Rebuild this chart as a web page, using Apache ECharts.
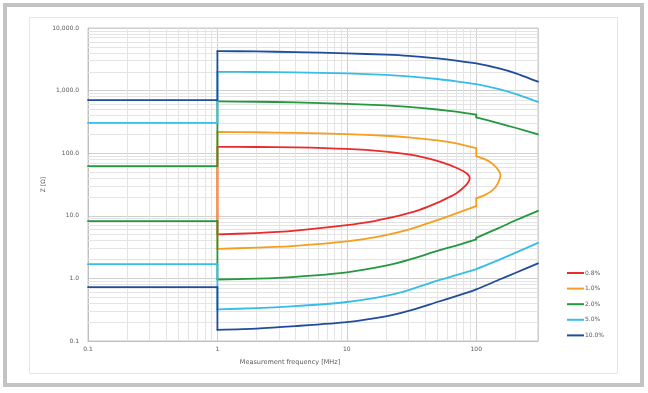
<!DOCTYPE html>
<html><head><meta charset="utf-8">
<script src="https://cdn.jsdelivr.net/npm/echarts@6/dist/echarts.min.js"></script>
<style>html,body{margin:0;padding:0;background:#fff}#c{width:648px;height:393px}</style>
</head><body><div id="c"></div>
<script>
// ---- data ----
const seriesNames = ['0.8%', '1.0%', '2.0%', '5.0%', '10.0%'];
const seriesColors = ['#ea2a2c', '#f59e20', '#23983f', '#38bcea', '#204c9b'];

// 0.8 % : closed loop starting at 1 MHz  [frequency MHz, Z ohm]
const z08Loop = [[1,5.05],[1,126],[2,125.5],[4,124],[10,117],[20,106],[30,95.7],[40,85.3],[50,75.5],[62,64.9],[70,58.5],[79,52],[85.5,46.5],[89,41],[88,36.5],[84,31.5],[77,26.5],[70,22.8],[60,19.3],[52,16.7],[36,12.3],[30,11.0],[25,10.0],[15,8.0],[10,7.1],[4,5.8],[2,5.3],[1,5.05]];
// 1.0 % : closed loop with steps at 100 MHz
const z10Loop = [[1,2.97],[1,218],[2,216],[4,211],[10,202],[20,190],[30,179],[50,160],[70,144],[100,121],[100,90],[112,82.6],[127,73],[143,59],[154,44.7],[147,33],[134,25.7],[116,21.4],[100,19],[100,14.3],[70,10.9],[50,8.5],[30,6.0],[18,4.7],[10,3.9],[4,3.32],[2,3.1],[1,2.97]];
// 2.0 %
const z20Upper = [[0.1,62.2],[1,62.2],[1,672],[2,664],[4,650],[10,612],[20,579],[30,550],[50,499],[70,460],[100,414],[100,375],[150,300],[200,255],[300,200]];
const z20Lower = [[0.1,8.2],[1,8.2],[1,0.96],[2,0.99],[4,1.06],[10,1.25],[20,1.6],[30,1.98],[50,2.75],[70,3.35],[100,4.2],[100,4.45],[150,6.4],[200,8.4],[300,12.0]];
// 5.0 %
const z50Upper = [[0.1,306],[1,306],[1,1995],[2,1982],[4,1950],[10,1880],[20,1778],[30,1687],[50,1531],[70,1406],[100,1265],[150,1054],[200,887],[300,661]];
const z50Lower = [[0.1,1.69],[1,1.69],[1,0.32],[2,0.335],[4,0.36],[10,0.42],[20,0.525],[30,0.65],[50,0.92],[70,1.13],[100,1.41],[150,1.98],[200,2.55],[300,3.7]];
// 10.0 %
const z100Upper = [[0.1,705],[1,705],[1,4276],[2,4220],[4,4120],[10,3935],[20,3750],[30,3590],[50,3270],[70,3020],[100,2716],[150,2265],[200,1905],[300,1390]];
const z100Lower = [[0.1,0.726],[1,0.726],[1,0.151],[2,0.158],[4,0.173],[10,0.2],[20,0.247],[30,0.302],[50,0.42],[70,0.52],[100,0.667],[150,0.95],[200,1.22],[300,1.74]];

// axis ranges / ticks
const xMin = 0.1, xMax = 300;
const yMin = 0.1, yMax = 10000;
const xTickLabels = {'0.1':'0.1','1':'1','10':'10','100':'100'};
const yTickLabels = {'0.1':'0.1','1':'1.0','10':'10.0','100':'100.0','1000':'1,000.0','10000':'10,000.0'};
const xMinorGrid = [0.2,0.3,0.4,0.5,0.6,0.7,0.8,0.9,2,3,4,5,6,7,8,9,20,30,40,50,60,70,80,90,200];
const yMinorGrid = [0.2,0.3,0.4,0.5,0.6,0.7,0.8,0.9,2,3,4,5,6,7,8,9,20,30,40,50,60,70,80,90,200,300,400,500,600,700,800,900,2000,3000,4000,5000,6000,7000,8000,9000];

// ---- chart ----
const FONT = 'DejaVu Sans';
const txt = '#595959';
const key = v => String(Number(v.toPrecision(6)));

// split a path at vertical steps: steps are drawn straight, the runs between them smoothed
function splitPath(path) {
  const runs = [];
  let cur = [path[0]];
  for (let i = 1; i < path.length; i++) {
    const p = path[i], q = path[i - 1];
    if (p[0] === q[0]) {
      if (cur.length > 1) runs.push({ smooth: true, pts: cur });
      runs.push({ smooth: false, pts: [q, p] });
      cur = [p];
    } else cur.push(p);
  }
  if (cur.length > 1) runs.push({ smooth: true, pts: cur });
  return runs;
}

const pathSeries = (name, path) => {
  const c = seriesColors[seriesNames.indexOf(name)];
  return splitPath(path).map(r => ({
    name, type: 'line', data: r.pts, symbol: 'none', showSymbol: false,
    smooth: r.smooth && r.pts.length > 2 ? 0.2 : false,
    color: c, lineStyle: { color: c, width: 1.8, cap: 'round', join: 'round' }, z: 10, silent: true
  }));
};

const chart = echarts.init(document.getElementById('c'), null, { renderer: 'canvas' });
chart.setOption({
  animation: false,
  backgroundColor: '#ffffff',
  textStyle: { fontFamily: FONT },
  graphic: [
    { type: 'rect', shape: { x: 5, y: 5, width: 637, height: 380 }, style: { fill: 'none', stroke: '#c3c3c3', lineWidth: 4 }, silent: true },
    { type: 'rect', shape: { x: 29.5, y: 17.5, width: 588, height: 356 }, style: { fill: 'none', stroke: '#e6e6e6', lineWidth: 1 }, silent: true }
  ],
  grid: { left: 88, right: 110, top: 28, bottom: 52, show: true, borderColor: '#c8c8c8', borderWidth: 1 },
  xAxis: {
    type: 'log', logBase: 10, min: xMin, max: xMax,
    name: 'Measurement frequency [MHz]', nameLocation: 'middle', nameGap: 18,
    nameTextStyle: { color: txt, fontSize: 6.5, fontFamily: FONT, padding: [0, 46, 0, 0] },
    axisLine: { show: true, lineStyle: { color: '#bfbfbf' } },
    axisTick: { show: false },
    axisLabel: { color: txt, fontSize: 6, fontFamily: FONT, margin: 5, showMaxLabel: false,
      formatter: v => xTickLabels[key(v)] || '' },
    splitLine: { show: true, lineStyle: { color: '#cfcfcf', width: 1 } }
  },
  yAxis: {
    type: 'log', logBase: 10, min: yMin, max: yMax,
    name: 'Z [Ω]', nameLocation: 'middle', nameGap: 42, nameRotate: 90, nameMoveOverlap: false,
    nameTextStyle: { color: txt, fontSize: 6, fontFamily: FONT },
    axisLine: { show: true, lineStyle: { color: '#bfbfbf' } },
    axisTick: { show: false },
    axisLabel: { color: txt, fontSize: 6, fontFamily: FONT, margin: 9,
      formatter: v => yTickLabels[key(v)] || '' },
    splitLine: { show: true, lineStyle: { color: '#cfcfcf', width: 1 } }
  },
  legend: {
    data: seriesNames.map(n => ({ name: n, icon: 'rect' })),
    orient: 'vertical', left: 562, top: 265,
    itemWidth: 17, itemHeight: 2, itemGap: 9.6,
    textStyle: { color: txt, fontSize: 6, fontFamily: FONT, padding: [0, 0, 0, -4] },
    selectedMode: false
  },
  series: [
    {
      name: 'minor-grid', type: 'line', data: [[xMin, yMin]], symbol: 'none',
      lineStyle: { opacity: 0 }, silent: true, z: 1,
      markLine: {
        silent: true, z: 1, symbol: ['none', 'none'], label: { show: false },
        lineStyle: { color: '#e4e4e4', width: 1, type: 'solid' },
        emphasis: { disabled: true },
        data: xMinorGrid.map(v => ({ xAxis: v })).concat(yMinorGrid.map(v => ({ yAxis: v })))
      }
    },
    ...pathSeries('0.8%', z08Loop),
    ...pathSeries('1.0%', z10Loop),
    ...pathSeries('2.0%', z20Upper),
    ...pathSeries('2.0%', z20Lower),
    ...pathSeries('5.0%', z50Upper),
    ...pathSeries('5.0%', z50Lower),
    ...pathSeries('10.0%', z100Upper),
    ...pathSeries('10.0%', z100Lower)
  ]
});
</script>
</body></html>
